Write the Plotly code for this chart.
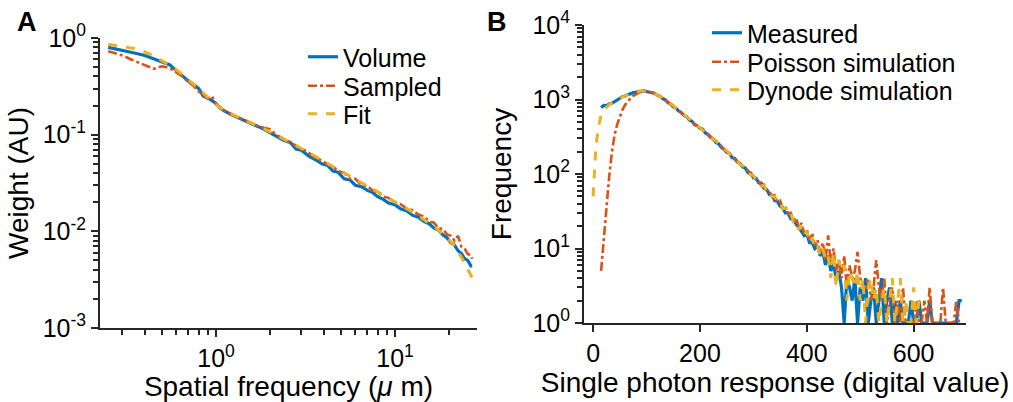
import plotly.graph_objects as go

# ---------------- Panel A data ----------------
freq_um = [0.25, 0.3, 0.35, 0.4, 0.45, 0.5, 0.55, 0.6, 0.65, 0.7, 0.75, 0.8, 0.85, 0.9, 0.95,
           1.0, 1.05, 1.1, 1.2, 1.3, 1.4, 1.5, 1.6, 1.7, 1.8, 2.0, 2.2, 2.4, 2.6, 2.8, 3.0,
           3.3, 3.6, 3.9, 4.2, 4.5, 4.8, 5.2, 5.6, 6.0, 6.5, 7.0, 7.5, 8.0, 8.6, 9.2, 10,
           10.8, 11.6, 12.5, 13.5, 14.5, 15.5, 16.5, 17.5, 18.5, 19.5, 20.5, 21.5, 22.5,
           23.5, 24.5, 25.5, 26.5, 27.0]
volume = [0.80, 0.75, 0.70, 0.66, 0.61, 0.57, 0.53, 0.46, 0.40, 0.36, 0.33, 0.30, 0.25, 0.24, 0.225,
          0.21, 0.19, 0.178, 0.163, 0.152, 0.143, 0.134, 0.128, 0.122, 0.117, 0.105, 0.096, 0.087,
          0.083, 0.071, 0.069, 0.060, 0.055, 0.050, 0.048, 0.042, 0.041, 0.035, 0.034, 0.030,
          0.029, 0.0265, 0.0252, 0.0228, 0.0214, 0.0196, 0.0188, 0.0170, 0.0163, 0.0147, 0.0140,
          0.0127, 0.0120, 0.0108, 0.0103, 0.0092, 0.0086, 0.0076, 0.0072, 0.0063, 0.0059,
          0.0052, 0.0050, 0.0044, 0.0044]
sampled = [0.73, 0.66, 0.58, 0.52, 0.48, 0.51, 0.49, 0.44, 0.40, 0.35, 0.32, 0.28, 0.26, 0.235, 0.25,
           0.205, 0.195, 0.18, 0.165, 0.153, 0.145, 0.137, 0.129, 0.124, 0.119, 0.114, 0.098, 0.090,
           0.083, 0.077, 0.071, 0.065, 0.057, 0.054, 0.049, 0.047, 0.042, 0.040, 0.035, 0.035,
           0.030, 0.0295, 0.0265, 0.0255, 0.0228, 0.0222, 0.0197, 0.0190, 0.0172, 0.0166, 0.0149,
           0.0143, 0.0127, 0.0123, 0.0107, 0.0106, 0.0093, 0.0090, 0.0080, 0.0090, 0.0069,
           0.0066, 0.0058, 0.0057, 0.0052]
fit = [0.86, 0.82, 0.78, 0.72, 0.65, 0.58, 0.52, 0.47, 0.42, 0.37, 0.33, 0.295, 0.265, 0.24, 0.22,
       0.205, 0.192, 0.181, 0.166, 0.154, 0.145, 0.137, 0.130, 0.124, 0.118, 0.107, 0.098, 0.090,
       0.083, 0.077, 0.072, 0.065, 0.059, 0.054, 0.050, 0.047, 0.044, 0.040, 0.037, 0.0345,
       0.0318, 0.0294, 0.0274, 0.0256, 0.0238, 0.0222, 0.0203, 0.0187, 0.0173, 0.0159, 0.0145,
       0.0133, 0.0122, 0.0112, 0.0103, 0.0094, 0.0086, 0.0078, 0.0070, 0.0062, 0.0054,
       0.0047, 0.0041, 0.0035, 0.0033]

# ---------------- Panel B data ----------------
response = list(range(0, 695, 5))
measured = [None, None, None, 780, 830, 820, 870, 890, 940, 990, 1020, 1090, 1110, 1170, 1190,
            1240, 1250, 1290, 1280, 1310, 1280, 1270, 1230, 1210, 1140, 1110, 1030, 990, 910, 870,
            800, 770, 700, 670, 610, 590, 530, 510, 460, 445, 410, 400, 355, 340, 310, 295, 265,
            255, 228, 215, 195, 190, 166, 162, 145, 138, 124, 120, 104, 103, 89, 88, 76, 75, 64,
            62, 53, 52, 44, 43, 37, 35, 30, 30, 25, 24, 21, 19, 17, 15, 16, 12, 12, 10, 11, 8, 9,
            6, 8, 5, 6, 4, 5, 3, 1, 4, 3, 2, 4, 1, 3, 2, 4, 1, 2, 3, 1, 2, 4, 1, 2, 3, 1, 2, 1, 2,
            1, 1, 1, 2, 1, 1, 2, 1, 1, 1, 2, 1, 1, 1, 1, 1, 1, 1, 1, 1, 1, 2, 2]
poisson = [None, None, None, 5, 14, 35, 90, 190, 330, 460, 600, 730, 850, 950, 1040, 1120, 1180,
           1230, 1270, 1290, 1300, 1260, 1250, 1190, 1160, 1090, 1050, 980, 930, 860, 820, 760,
           720, 660, 625, 575, 545, 500, 475, 440, 415, 385, 365, 335, 318, 290, 275, 250, 238,
           212, 203, 184, 172, 158, 150, 134, 128, 116, 112, 99, 96, 84, 82, 70, 72, 60, 58, 50,
           52, 42, 44, 35, 37, 29, 30, 24, 26, 19, 22, 16, 18, 13, 16, 11, 13, 9, 12, 7, 15, 6,
           10, 5, 7, 4, 8, 3, 6, 4, 5, 9, 4, 3, 3, 4, 2, 3, 7, 3, 2, 4, 1, 2, 3, 1, 2, 1, 3, 1,
           1, 1, 1, 2, 1, 1, 2, 1, 3, 1, 1, 1, 1, 3, 1, 1, 1, 1, 2, 1, None]
dynode = [50, 220, 430, 610, 720, 790, 850, 900, 950, 990, 1040, 1080, 1130, 1160, 1210, 1230,
          1270, 1280, 1310, 1300, 1300, 1260, 1240, 1190, 1150, 1090, 1060, 990, 940, 880, 830,
          770, 730, 670, 630, 585, 550, 505, 478, 440, 420, 390, 368, 338, 320, 292, 280, 252,
          240, 215, 205, 186, 176, 158, 152, 133, 130, 115, 112, 97, 96, 83, 82, 69, 70, 58, 60,
          49, 50, 41, 42, 34, 35, 28, 29, 23, 24, 18, 20, 15, 17, 12, 14, 10, 11, 8, 10, 7, 8, 4,
          9, 3, 7, 5, 6, 2, 5, 4, 3, 5, 2, 4, 1, 3, 4, 2, 3, 1, 2, 3, 1, 2, 4, 1, 2, 4, 1, 2, 1,
          1, 3, 1, 2] + [None] * 16

a_xticks = [1, 10]
a_xticktext = ["10<sup>0</sup>", "10<sup>1</sup>"]
a_yticks = [0.001, 0.01, 0.1, 1]
a_yticktext = ["10<sup>-3</sup>", "10<sup>-2</sup>", "10<sup>-1</sup>", "10<sup>0</sup>"]
b_xticks = [0, 200, 400, 600]
b_yticks = [1, 10, 100, 1000, 10000]
b_yticktext = ["10<sup>0</sup>", "10<sup>1</sup>", "10<sup>2</sup>", "10<sup>3</sup>", "10<sup>4</sup>"]

BLUE, ORANGE, YELLOW = "#0072BD", "#D95319", "#EDB120"
AX = "#262626"
FONT = "Liberation Sans, Arial, Helvetica, sans-serif"
W, H = 1013, 402

styles = {
    "solid": dict(color=BLUE, width=3.2),
    "dashdot": dict(color=ORANGE, width=2.6, dash="dashdot"),
    "dash": dict(color=YELLOW, width=3.0, dash="dash"),
}

fig = go.Figure()
fig.add_trace(go.Scatter(x=freq_um, y=volume, name="Volume", mode="lines",
                         line=styles["solid"], xaxis="x", yaxis="y", legend="legend"))
fig.add_trace(go.Scatter(x=freq_um, y=sampled, name="Sampled", mode="lines",
                         line=styles["dashdot"], xaxis="x", yaxis="y", legend="legend2"))
fig.add_trace(go.Scatter(x=freq_um, y=fit, name="Fit", mode="lines",
                         line=styles["dash"], xaxis="x", yaxis="y", legend="legend3"))

fig.add_trace(go.Scatter(x=response, y=measured, name="Measured", mode="lines",
                         line=styles["solid"], xaxis="x2", yaxis="y2", legend="legend4"))
fig.add_trace(go.Scatter(x=response, y=poisson, name="Poisson simulation", mode="lines",
                         line=styles["dashdot"], xaxis="x2", yaxis="y2", legend="legend5"))
fig.add_trace(go.Scatter(x=response, y=dynode, name="Dynode simulation", mode="lines",
                         line=styles["dash"], xaxis="x2", yaxis="y2", legend="legend6"))

tickfont = dict(family=FONT, size=25, color="#000")
titlefont = dict(family=FONT, size=28, color="#000")
common = dict(showgrid=False, zeroline=False, showline=True, linecolor=AX, linewidth=2,
              ticks="outside", tickcolor=AX, tickwidth=2, ticklen=7, tickfont=tickfont,
              automargin=False)

minor_a_x = [0.3, 0.4, 0.5, 0.6, 0.7, 0.8, 0.9, 2, 3, 4, 5, 6, 7, 8, 9, 20]
minor_a_y = [m * d for d in (0.001, 0.01, 0.1) for m in range(2, 10)]
minor_b_y = [m * d for d in (1, 10, 100, 1000) for m in range(2, 10)]


def leg(xpx, ypx):
    return dict(x=xpx / W, y=1 - ypx / H, xanchor="left", yanchor="middle",
                bgcolor="rgba(0,0,0,0)", borderwidth=0,
                font=dict(family=FONT, size=25, color="#000"),
                tracegroupgap=0, itemwidth=30)


fig.update_layout(
    width=W, height=H, margin=dict(l=0, r=0, t=0, b=0, autoexpand=False),
    paper_bgcolor="white", plot_bgcolor="white",
    font=dict(family=FONT, color="#000"),
    xaxis=dict(common, type="log", domain=[100 / W, 477 / W], range=[-0.648, 1.458],
               tickmode="array", tickvals=a_xticks, ticktext=a_xticktext, anchor="y",
               minor=dict(tickmode="array", tickvals=minor_a_x, ticks="outside", ticklen=5,
                          tickwidth=2, tickcolor=AX, showgrid=False),
               title=dict(text="Spatial frequency (<i>μ</i> m)", font=titlefont, standoff=0)),
    yaxis=dict(common, type="log", domain=[(H - 328) / H, (H - 38) / H], range=[-3, 0],
               tickmode="array", tickvals=a_yticks, ticktext=a_yticktext, anchor="x",
               minor=dict(tickmode="array", tickvals=minor_a_y, ticks="outside", ticklen=5,
                          tickwidth=2, tickcolor=AX, showgrid=False),
               title=dict(text="Weight (AU)", font=titlefont, standoff=6)),
    xaxis2=dict(common, domain=[584 / W, 966 / W], range=[-17, 698],
                tickmode="array", tickvals=b_xticks, anchor="y2",
                title=dict(text="Single photon response (digital value)", font=titlefont, standoff=0)),
    yaxis2=dict(common, type="log", domain=[(H - 323) / H, (H - 25) / H], range=[0, 4],
                tickmode="array", tickvals=b_yticks, ticktext=b_yticktext, anchor="x2",
                minor=dict(tickmode="array", tickvals=minor_b_y, ticks="outside", ticklen=5,
                           tickwidth=2, tickcolor=AX, showgrid=False),
                title=dict(text="Frequency", font=titlefont, standoff=13)),
    legend=leg(303, 57), legend2=leg(303, 86), legend3=leg(303, 114),
    legend4=leg(707, 33), legend5=leg(707, 62), legend6=leg(707, 90),
    showlegend=True,
    annotations=[
        dict(text="<b>A</b>", x=27 / W, y=1 - 22 / H, xref="paper", yref="paper",
             xanchor="center", yanchor="middle",
             showarrow=False, font=dict(family=FONT, size=27, color="#000")),
        dict(text="<b>B</b>", x=497 / W, y=1 - 22 / H, xref="paper", yref="paper",
             xanchor="center", yanchor="middle",
             showarrow=False, font=dict(family=FONT, size=27, color="#000")),
    ],
)

fig.write_html("out.html")
